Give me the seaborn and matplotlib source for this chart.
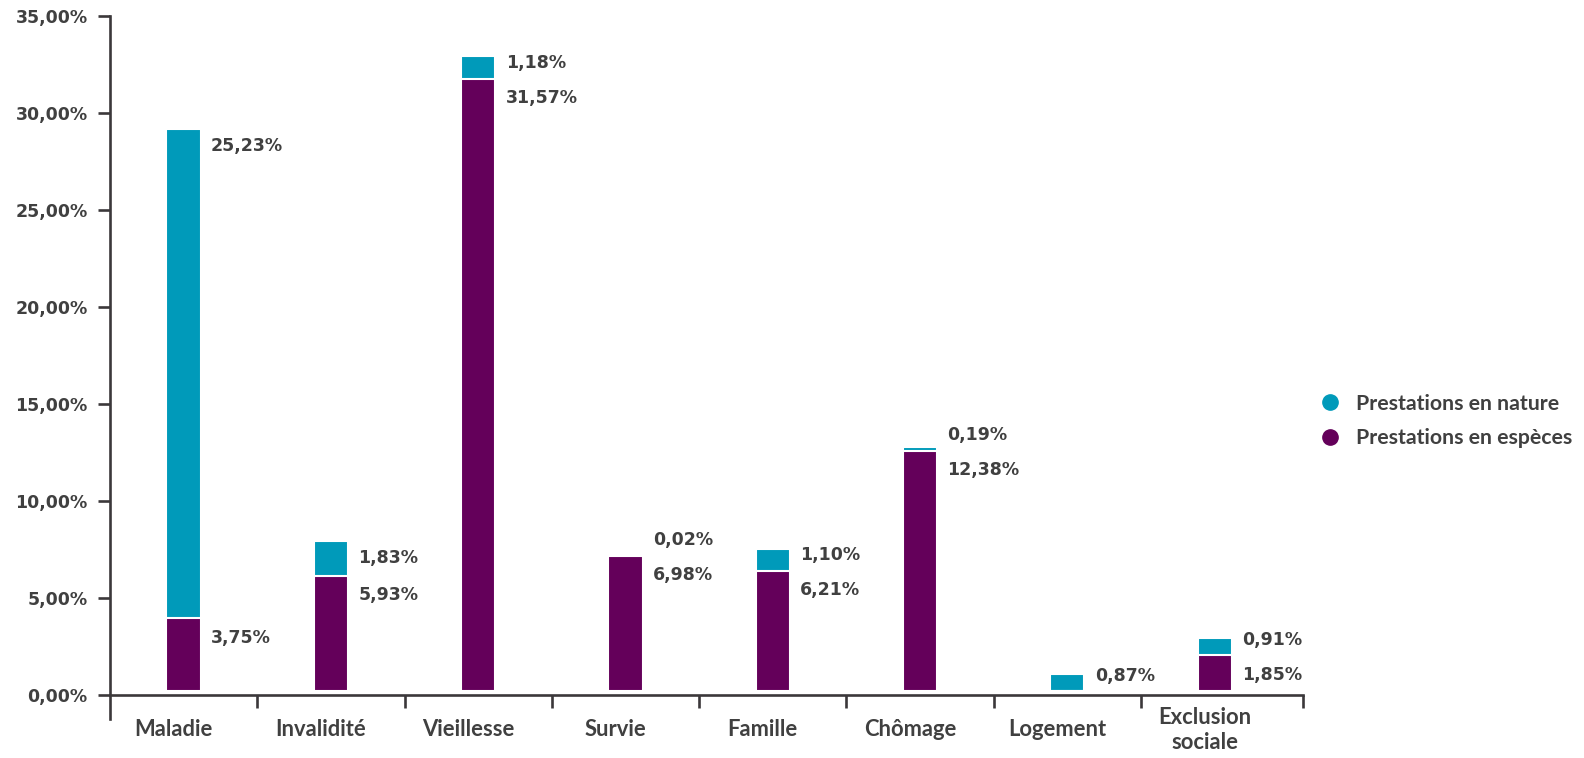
import matplotlib
matplotlib.use("Agg")
import pandas as pd
import matplotlib.pyplot as plt
import matplotlib.transforms as mtransforms
from matplotlib.lines import Line2D
import seaborn as sns

# Données (part des prestations, en %)
categories = ["Maladie", "Invalidité", "Vieillesse", "Survie", "Famille",
              "Chômage", "Logement", "Exclusion\nsociale"]
especes = [3.75, 5.93, 31.57, 6.98, 6.21, 12.38, 0.0, 1.85]
nature = [25.23, 1.83, 1.18, 0.02, 1.10, 0.19, 0.87, 0.91]
yticks = [0, 5, 10, 15, 20, 25, 30, 35]

teal = "#009ABA"
purple = "#64005A"
grey = "#404040"
axis_col = "#3b383a"
base = 0.2  # les barres démarrent un peu au-dessus de l'axe
bar_w = 0.232
x_end = 7.6  # l'axe dépasse un peu la dernière catégorie

df = pd.DataFrame({"categorie": categories, "especes": especes, "nature": nature})
df["total"] = df["especes"] + df["nature"]

sns.set_theme(style="white")
plt.rcParams["font.family"] = ["DejaVu Sans"]

fig = plt.figure(figsize=(15.84, 7.58), dpi=100)
ax = fig.add_axes([0.0694, 0.0831, 0.7532, 0.8958])

# barres empilées : nature (total) derrière, espèces devant
sns.barplot(data=df, x="categorie", y="total", color=teal, width=bar_w, bottom=base,
            saturation=1, errorbar=None, edgecolor="white", linewidth=1.5, ax=ax)
sns.barplot(data=df, x="categorie", y="especes", color=purple, width=bar_w, bottom=base,
            saturation=1, errorbar=None, edgecolor="white", linewidth=1.5, ax=ax)

# étiquettes des valeurs
for i, row in df.iterrows():
    y_esp = base + row["especes"] - 1.0
    if row["especes"] > 0:
        ax.annotate(f"{row['especes']:.2f}%".replace(".", ","), (i + bar_w / 2, y_esp),
                    xytext=(7.5, 0), textcoords="offset points", va="center", ha="left",
                    fontsize=12.5, fontweight="bold", color=grey)
    y_nat = max(base + row["total"] - 0.9, y_esp + 1.8)
    ax.annotate(f"{row['nature']:.2f}%".replace(".", ","), (i + bar_w / 2, y_nat),
                xytext=(7.5, 0), textcoords="offset points", va="center", ha="left",
                fontsize=12.5, fontweight="bold", color=grey)

# axes
ax.set_xlim(-0.5, x_end)
ax.set_ylim(0, 35)
ax.set_xlabel("")
ax.set_ylabel("")
sns.despine(ax=ax, top=True, right=True)
for side in ["left", "bottom"]:
    ax.spines[side].set_color(axis_col)
    ax.spines[side].set_linewidth(1.9)
ax.spines["left"].set_bounds(-1.25, 35)

ax.set_yticks(yticks)
ax.set_yticklabels([f"{v:.2f}%".replace(".", ",") for v in yticks])
ax.tick_params(axis="y", which="major", left=True, length=9, width=1.9, color=axis_col,
               pad=7, labelsize=12.5, labelcolor=grey)
for lab in ax.get_yticklabels():
    lab.set_fontweight("bold")

ax.set_xticks(range(len(categories)))
ax.set_xticks([k + 0.5 for k in range(len(categories) - 1)] + [x_end], minor=True)
ax.tick_params(axis="x", which="major", bottom=True, length=0, pad=25)
ax.tick_params(axis="x", which="minor", bottom=True, length=9, width=1.9, color=axis_col,
               direction="out")
ax.set_xticklabels(categories, fontsize=15.8, fontweight="bold", color=grey,
                   family=["Lato", "DejaVu Sans"], linespacing=1.22, va="center")
# les libellés sont un peu décalés vers la gauche dans l'original
shift = mtransforms.ScaledTranslation(-10 / 100, 0, fig.dpi_scale_trans)
for lab in ax.get_xticklabels():
    lab.set_transform(lab.get_transform() + shift)
ax.grid(False)

# légende
handles = [Line2D([], [], marker="o", linestyle="", markersize=11, color=teal),
           Line2D([], [], marker="o", linestyle="", markersize=11, color=purple)]
fig.legend(handles, ["Prestations en nature", "Prestations en espèces"],
           loc="center left", bbox_to_anchor=(1300 / 1584, 1 - 421 / 758), frameon=False,
           handlelength=1.0, handletextpad=0.75, labelspacing=0.7,
           prop={"family": ["Lato", "DejaVu Sans"], "weight": "bold", "size": 15.3},
           labelcolor=grey)

fig.savefig("out.png", dpi=100)
